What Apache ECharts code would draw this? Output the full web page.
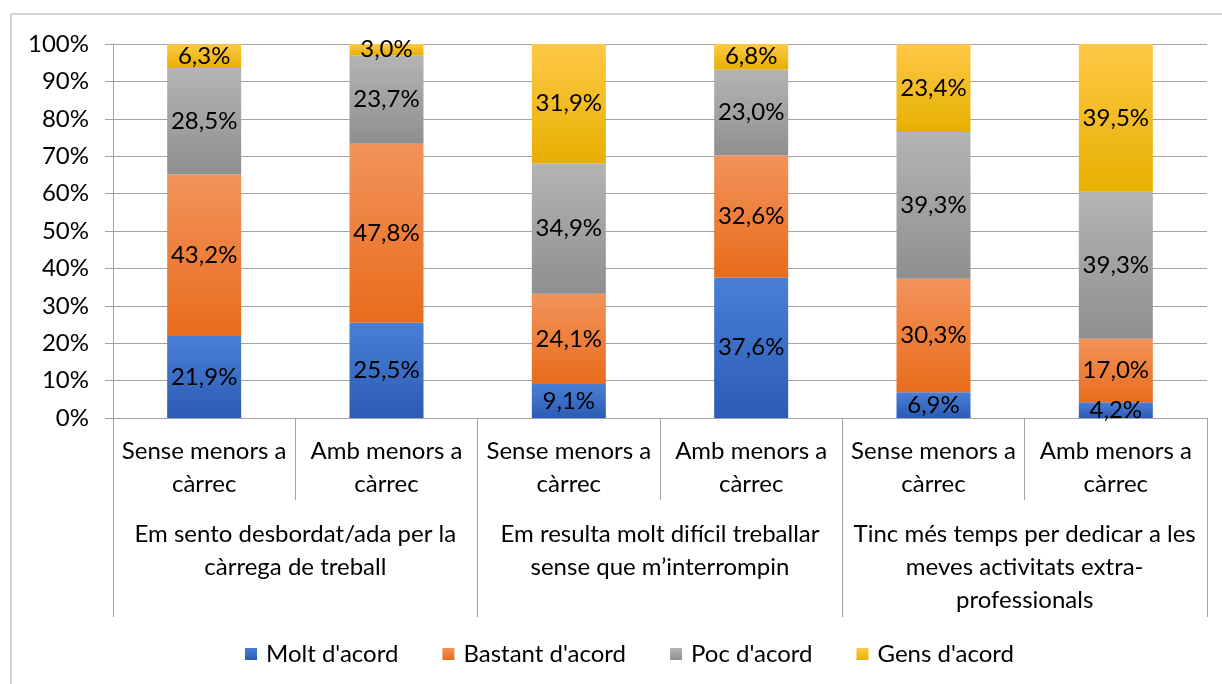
<!DOCTYPE html>
<html>
<head>
<meta charset="utf-8">
<script src="https://cdn.jsdelivr.net/npm/echarts@6/dist/echarts.min.js"></script>
<style>
  html, body { margin: 0; padding: 0; background: #fff; }
  #chartmain { width: 1222px; height: 684px; }
</style>
</head>
<body>
<div id="chartmain"></div>
<script>
// categories (two levels)
var subCats = ['Sense menors a\ncàrrec', 'Amb menors a\ncàrrec', 'Sense menors a\ncàrrec', 'Amb menors a\ncàrrec', 'Sense menors a\ncàrrec', 'Amb menors a\ncàrrec'];
var groupCats = ['Em sento desbordat/ada per la\ncàrrega de treball', 'Em resulta molt difícil treballar\nsense que m\u2019interrompin', 'Tinc més temps per dedicar a les\nmeves activitats extra-\nprofessionals'];
var yTicks = [0, 10, 20, 30, 40, 50, 60, 70, 80, 90, 100];

// series values (%)
var molt = [21.9, 25.5, 9.1, 37.6, 6.9, 4.2];
var bastant = [43.2, 47.8, 24.1, 32.6, 30.3, 17.0];
var poc = [28.5, 23.7, 34.9, 23.0, 39.3, 39.3];
var gens = [6.3, 3.0, 31.9, 6.8, 23.4, 39.5];

var FONT = 'Lato';
var FS = 24;
var lineCol = '#a3a3a3';

function grad(top, bottom) {
    return new echarts.graphic.LinearGradient(0, 0, 0, 1, [
        { offset: 0, color: top },
        { offset: 1, color: bottom }
    ]);
}

function mkSeries(name, data, top, bottom) {
    return {
        name: name,
        type: 'bar',
        stack: 'total',
        barWidth: 74,
        data: data,
        itemStyle: { color: grad(top, bottom) },
        label: {
            show: true,
            position: 'inside',
            color: '#000',
            fontFamily: FONT,
            fontSize: FS,
            formatter: function (p) {
                return p.value.toFixed(1).replace('.', ',') + '%';
            }
        }
    };
}

var myChart = echarts.init(document.getElementById('chartmain'));
var options = {
    backgroundColor: '#fff',
    animation: false,
    textStyle: { fontFamily: FONT, color: '#000' },
    graphic: [{
        type: 'rect',
        shape: { x: 11, y: 14, width: 1230, height: 700 },
        style: { fill: 'none', stroke: '#a6a6a6', lineWidth: 1 },
        silent: true
    }],
    grid: { left: 113, right: 15, top: 44, bottom: 266, containLabel: false },
    legend: {
        bottom: 13,
        left: 240,
        itemWidth: 12,
        itemHeight: 12,
        itemGap: 44,
        icon: 'rect',
        textStyle: { fontFamily: FONT, fontSize: FS, color: '#000', padding: [0, 0, 0, 4] },
        data: ["Molt d'acord", "Bastant d'acord", "Poc d'acord", "Gens d'acord"]
    },
    xAxis: [{
        type: 'category',
        data: subCats,
        position: 'bottom',
        axisLine: { lineStyle: { color: lineCol } },
        axisTick: { show: true, length: 82, interval: 0, lineStyle: { color: lineCol } },
        axisLabel: {
            interval: 0, margin: 17, color: '#000', fontFamily: FONT,
            fontSize: FS, lineHeight: 33
        }
    }, {
        type: 'category',
        data: groupCats,
        position: 'bottom',
        offset: 82,
        axisLine: { show: false },
        axisTick: { show: true, length: 117, interval: 0, lineStyle: { color: lineCol } },
        axisLabel: {
            interval: 0, margin: 18, color: '#000', fontFamily: FONT,
            fontSize: FS, lineHeight: 33
        }
    }],
    yAxis: {
        type: 'value',
        min: yTicks[0],
        max: yTicks[yTicks.length - 1],
        interval: 10,
        axisLine: { show: true, lineStyle: { color: lineCol } },
        axisTick: { show: true, length: 8, lineStyle: { color: lineCol } },
        splitLine: { lineStyle: { color: lineCol } },
        axisLabel: {
            margin: 24, color: '#000', fontFamily: FONT, fontSize: FS,
            formatter: '{value}%'
        }
    },
    series: [
        mkSeries("Molt d'acord", molt, '#4a7fd6', '#2c5cb5'),
        mkSeries("Bastant d'acord", bastant, '#f2935b', '#e86c1c'),
        mkSeries("Poc d'acord", poc, '#b4b4b4', '#8f8f8f'),
        mkSeries("Gens d'acord", gens, '#ffc847', '#e6b000')
    ]
};
myChart.setOption(options);
</script>
</body>
</html>
